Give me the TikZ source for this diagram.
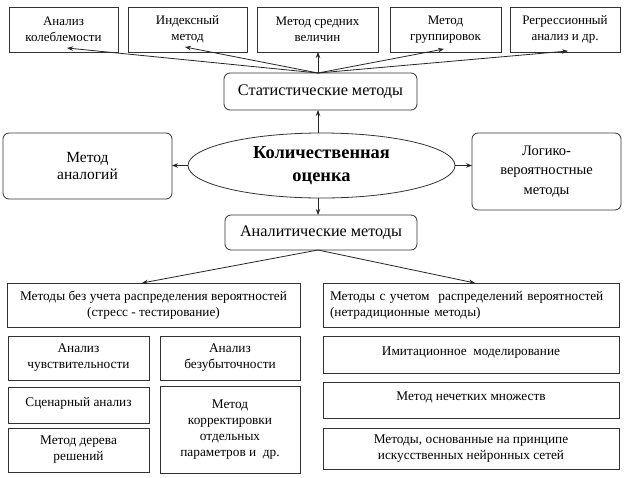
\documentclass[tikz,border=0pt]{standalone}
\usepackage{fontspec}
\setmainfont{Liberation Serif}
\usetikzlibrary{arrows.meta,shapes.geometric}
\begin{document}
\begin{tikzpicture}[x=1pt,y=-1pt,
  every node/.style={inner sep=0pt,outer sep=0pt},
  box/.style={draw=black!80,line width=0.8pt,align=center,font=\fontsize{13.3}{16}\selectfont},
  tbox/.style={box,font=\fontsize{13}{16}\selectfont},
  rbox/.style={box,rounded corners=6pt},
  arr/.style={-{Stealth[length=6pt,width=4.5pt]},line width=0.8pt,black!85},
  ]
\useasboundingbox (0,0) rectangle (626,477);
\fill[white] (0,0) rectangle (626,477);
% top row
\node[tbox,minimum width=109pt,minimum height=45pt] (b1) at (63.5,29.5) {Анализ\\колеблемости};
\node[tbox,minimum width=119pt,minimum height=45pt] (b2) at (187.5,29.5) {Индексный\\метод};
\node[tbox,minimum width=121pt,minimum height=45pt] (b3) at (317.5,29.5) {Метод средних\\величин};
\node[tbox,minimum width=111pt,minimum height=45pt] (b4) at (445.5,29.5) {Метод\\группировок};
\node[tbox,minimum width=110pt,minimum height=45pt] (b5) at (565,29.5) {Регрессионный\\анализ и др.};
% stat
\node[rbox,minimum width=193pt,minimum height=37pt,font=\fontsize{16.2}{19}\selectfont] (stat) at (320.5,91.5) {Статистические методы};
% ellipse
\node[ellipse,draw=black!80,line width=0.8pt,minimum width=267pt,minimum height=65pt,align=center,font=\bfseries\fontsize{18.4}{23}\selectfont] (q) at (321.5,165.5) {Количественная\\оценка};
\node[rbox,minimum width=169pt,minimum height=66pt,font=\fontsize{15.5}{17}\selectfont] (an) at (87.5,166) {Метод\\аналогий};
\node[rbox,minimum width=149pt,minimum height=77pt,font=\fontsize{14.5}{19.5}\selectfont] (lv) at (546.5,171.5) {Логико-\\вероятностные\\методы};
\node[rbox,minimum width=192pt,minimum height=35pt,font=\fontsize{16.2}{19}\selectfont] (anal) at (321,232.5) {Аналитические методы};
% second level
\node[box,minimum width=293pt,minimum height=44pt] (L) at (153.5,305) {Методы без учета распределения вероятностей\\(стресс - тестирование)};
\node[box,minimum width=296pt,minimum height=44pt,text width=282pt,align=left] (R) at (471,305) {Методы с учетом\ \ распределений вероятностей\\(нетрадиционные методы)};
% bottom left
\node[box,minimum width=141pt,minimum height=44pt] (l1) at (78.5,358) {Анализ\\чувствительности};
\node[box,minimum width=140pt,minimum height=44pt] (l2) at (230,358) {Анализ\\безубыточности};
\node[box,minimum width=141pt,minimum height=36pt,text depth=7pt] (l3) at (78.5,405) {Сценарный анализ};
\node[box,minimum width=141pt,minimum height=44pt] (l4) at (78.5,450) {Метод дерева\\решений};
\node[box,minimum width=140pt,minimum height=87pt] (l5) at (230,429.5) {Метод\\корректировки\\отдельных\\параметров и\ \ др.};
% bottom right
\node[box,minimum width=296pt,minimum height=37pt,text depth=7pt] (r1) at (471,354.5) {Имитационное\ \ моделирование};
\node[box,minimum width=296pt,minimum height=36pt,text depth=7pt] (r2) at (471,400) {Метод нечетких множеств};
\node[box,minimum width=296pt,minimum height=41pt] (r3) at (471,448.5) {Методы, основанные на принципе\\искусственных нейронных сетей};
% connectors
\coordinate (s0) at (318,73);
\draw[arr] (s0) -- ([xshift=3.5pt,yshift=4pt]b1.south);
\draw[arr] (s0) -- ([xshift=-2.5pt,yshift=5pt]b2.south);
\draw[arr] (s0) -- (s0 |- b3.south);
\draw[arr] (s0) -- ([xshift=-1.5pt,yshift=3pt]b4.south);
\draw[arr] (s0) -- ([xshift=3pt,yshift=1pt]b5.south);
\draw[arr] (q.north -| s0) -- (stat.south -| s0);
\draw[arr] (q.south -| s0) -- (anal.north -| s0);
\draw[arr] (q.west) -- (an.east |- q.west);
\draw[arr] (q.east) -- (lv.west |- q.east);
\coordinate (a0) at (318,250);
\draw[arr] (a0) -- ([xshift=-11.5pt]L.north);
\draw[arr] (a0) -- ([xshift=4pt]R.north);
\end{tikzpicture}
\end{document}
